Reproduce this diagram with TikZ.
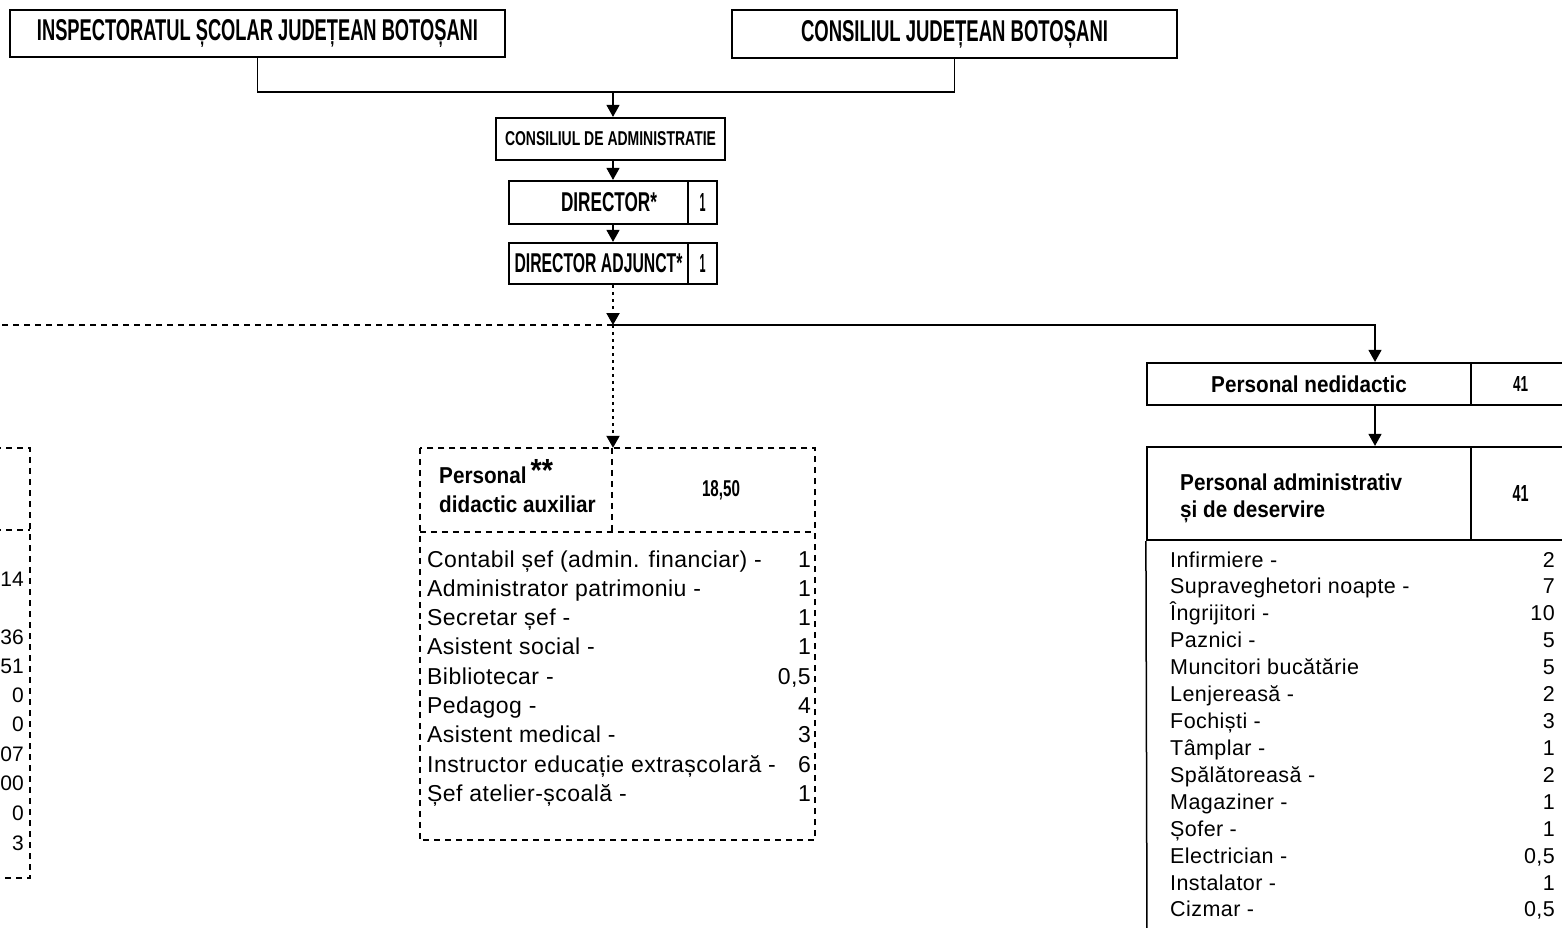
\documentclass[tikz,border=0pt]{standalone}
\usepackage{fontspec}
\setmainfont{Liberation Sans}
\newfontfamily\lstfont[LetterSpace=2]{Liberation Sans}
\newfontfamily\bcond[FakeStretch=0.9]{Liberation Sans}
\usetikzlibrary{arrows.meta}
\newcommand{\sqz}[3]{\resizebox{#1pt}{#2pt}{\bfseries #3}}
\begin{document}
\begin{tikzpicture}[x=1pt,y=-1pt,
  boxn/.style={draw,line width=2.2pt,inner sep=0pt},
  plain/.style={inner sep=0pt},
  thinl/.style={line width=1.3pt},
  arr/.style={-{Triangle[width=13pt,length=12pt]}},
  dsh/.style={line width=2pt,dash pattern=on 6pt off 5pt},
  dotl/.style={line width=2pt,dash pattern=on 3pt off 4pt},
  hdr/.style={inner sep=0pt,font=\bcond\bfseries\fontsize{23}{23}\selectfont},
  lsta/.style={inner sep=0pt,font=\lstfont\fontsize{23}{23}\selectfont},
  lstb/.style={inner sep=0pt,font=\lstfont\fontsize{21.5}{21.5}\selectfont},
  lstc/.style={inner sep=0pt,font=\fontsize{21}{21}\selectfont}]
\useasboundingbox (0,0) rectangle (1562,928);
\fill[white] (0,0) rectangle (1562,928);
\clip (0,0) rectangle (1562,928);

% top boxes
\node[boxn,minimum width=495pt,minimum height=47pt] (isj) at (257.5,33.5)
  {\sqz{441}{21}{INSPECTORATUL ȘCOLAR JUDEȚEAN BOTOȘANI}};
\node[boxn,minimum width=445pt,minimum height=48pt] (cjb) at (954.5,34)
  {\sqz{307}{21}{CONSILIUL JUDEȚEAN BOTOȘANI}};
\coordinate (j) at (613,92);
\draw[thinl] (isj.south) |- (j) -| (cjb.south);

\node[boxn,minimum width=229pt,minimum height=42pt] (ca) at (610.5,139)
  {\sqz{211}{14}{CONSILIUL DE ADMINISTRATIE}};
\draw[thinl,arr] (j) -- (j |- ca.north);

\node[boxn,minimum width=179pt,minimum height=43pt] (dir) at (598.5,202.5)
  {\hspace*{21pt}\sqz{96}{19}{DIRECTOR*}};
\node[boxn,minimum width=29pt,minimum height=43pt] (dirn) at (702.5,202.5)
  {\sqz{6}{18}{1}};
\draw[thinl,arr] (ca.south -| j) -- (dir.north -| j);

\node[boxn,minimum width=179pt,minimum height=41pt] (dira) at (598.5,263.5)
  {\sqz{168}{19}{DIRECTOR ADJUNCT*}};
\node[boxn,minimum width=29pt,minimum height=41pt] (diran) at (702.5,263.5)
  {\sqz{6}{18}{1}};
\draw[thinl,arr] (dir.south -| j) -- (dira.north -| j);

% branching
\coordinate (k) at (613,325);
\coordinate (m) at (1375,0);
\draw[dotl,arr] (dira.south -| k) -- (k);
\draw[dsh] (k) -- (-5,325);

% personal didactic auxiliar
\node[plain,minimum width=192pt,minimum height=84pt] (pdal) at (516,490) {};
\node[plain,minimum width=203pt,minimum height=84pt] (pdan) at (713.5,490)
  {\hspace*{15pt}\sqz{38}{16}{18,50}};
\node[plain,minimum width=395pt,minimum height=308pt] (pdalist) at (617.5,686) {};
\draw[dsh] (pdal.north west) rectangle (pdalist.south east);
\draw[dsh] (pdal.south west) -- (pdan.south east);
\draw[dsh] (pdal.north east) -- (pdal.south east);
\draw[dotl,arr] (k) -- (k |- pdal.north);
\node[hdr,anchor=base west] (t1) at (439,483)
  {Personal\hspace{4pt}\raisebox{2pt}{\fontsize{32}{32}\selectfont**}};
\node[hdr,anchor=base west] (t2) at (439,512) {didactic auxiliar};

\foreach \t/\n [count=\i from 0] in {
  {Contabil șef (admin. financiar) -}/1,
  {Administrator patrimoniu -}/1,
  {Secretar șef -}/1,
  {Asistent social -}/1,
  {Bibliotecar -}/{0,5},
  {Pedagog -}/4,
  {Asistent medical -}/3,
  {Instructor educație extrașcolară -}/6,
  {Șef atelier-școală -}/1}{
  \node[lsta,anchor=base west] (ma\i) at ({427},{567+29.3*\i}) {\t};
  \node[lsta,anchor=base east] (mb\i) at ({811},{567+29.3*\i}) {\n};
}

% left cut-off box
\draw[dsh] (-5,448) -- (30,448) -- (30,878) -- (-5,878);
\draw[dsh] (-5,530) -- (30,530);
\foreach \n/\y in {14/586,36/644,51/673,0/702,0/731,07/761,00/790,0/820,3/850}{
  \node[lstc,anchor=base east] at (24,\y) {\n};
}

% personal nedidactic
\node[boxn,minimum width=324pt,minimum height=42pt] (pnl) at (1309,384)
  {\bcond\bfseries\fontsize{23}{23}\selectfont Personal nedidactic};
\node[boxn,minimum width=99pt,minimum height=42pt] (pnn) at (1520.5,384)
  {\sqz{15}{15}{41}};
\draw[thinl,arr] (k) -| (m |- pnl.north);

\node[boxn,minimum width=324pt,minimum height=93pt] (pad) at (1309,493.5) {};
\node[boxn,minimum width=99pt,minimum height=93pt] (padn) at (1520.5,493.5)
  {\sqz{16}{16}{41}};
\node[hdr,anchor=base west] (t3) at (1180,490) {Personal administrativ};
\node[hdr,anchor=base west] (t4) at (1180,517) {și de deservire};
\draw[thinl,arr] (m |- pnl.south) -- (m |- pad.north);
\draw[line width=1.5pt] (pad.south west) -- (1147,940);

\foreach \t/\n [count=\i from 0] in {
  {Infirmiere -}/2,
  {Supraveghetori noapte -}/7,
  {Îngrijitori -}/10,
  {Paznici -}/5,
  {Muncitori bucătărie}/5,
  {Lenjereasă -}/2,
  {Fochiști -}/3,
  {Tâmplar -}/1,
  {Spălătoreasă -}/2,
  {Magaziner -}/1,
  {Șofer -}/1,
  {Electrician -}/{0,5},
  {Instalator -}/1,
  {Cizmar -}/{0,5}}{
  \node[lstb,anchor=base west] (ra\i) at ({1170},{567+26.92*\i}) {\t};
  \node[lstb,anchor=base east] (rb\i) at ({1555},{567+26.92*\i}) {\n};
}
\end{tikzpicture}
\end{document}
